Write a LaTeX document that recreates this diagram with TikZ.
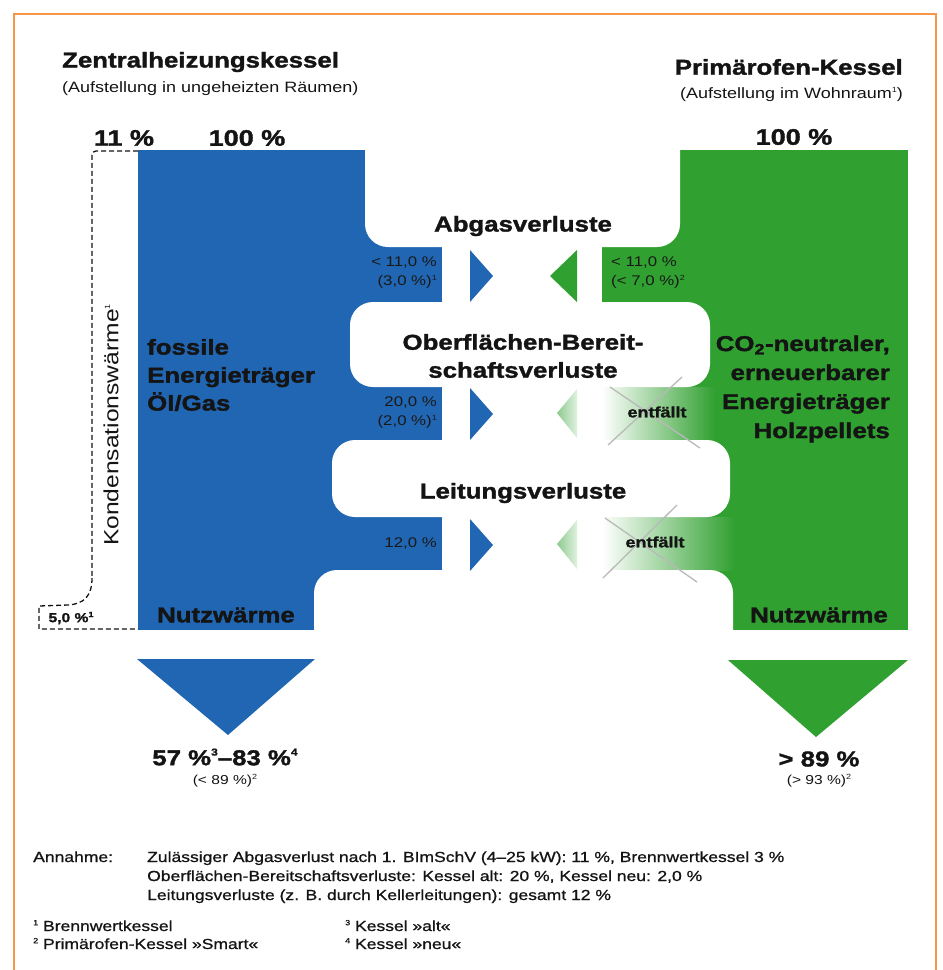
\documentclass[tikz,border=0pt]{standalone}
\usepackage{fontspec}
\setmainfont{Liberation Sans}[FakeStretch=1.2, BoldFeatures={FakeBold=1.6}]
\newfontfamily\footfont{Liberation Sans}[FakeStretch=1.2, FakeBold=0.9]
\newcommand\fnx[1]{\raisebox{0.75ex}{\fontsize{7.5}{8}\selectfont #1}}
\newcommand\fnb[1]{\raisebox{0.85ex}{\fontsize{10}{10}\selectfont #1}}
\definecolor{bblue}{RGB}{33,102,178}
\definecolor{ggreen}{RGB}{48,160,48}
\definecolor{orng}{RGB}{246,150,70}
\definecolor{txt}{RGB}{20,20,20}
\tikzset{
  lbl/.style={font=\fontsize{21.5}{26}\selectfont\bfseries, inner sep=0pt, text=txt},
  sub/.style={font=\fontsize{15}{18}\selectfont, inner sep=0pt, text=txt},
  small/.style={font=\fontsize{14}{19}\selectfont, inner sep=0pt, text=black!90},
  foot/.style={font=\footfont\fontsize{14.6}{19}\selectfont, inner sep=0pt, text=txt, anchor=base west},
  gap/.style={fill=white, rounded corners=23pt},
  cross/.style={draw=gray!55, line width=1.3pt},
  dsh/.style={draw=txt, line width=1.3pt, dash pattern=on 5pt off 3pt}
}
\begin{document}
\begin{tikzpicture}[x=1pt,y=-1pt]
\useasboundingbox (0,0) rectangle (943,970);
\draw[orng, line width=2pt] (14,970) -- (14,14) -- (936,14) -- (936,970);

% base columns
\fill[bblue] (138,150) rectangle (442,630);
\fill[ggreen] (602,150) rectangle (908,630);
% faded green branches
\shade[left color=white, right color=ggreen] (602,387) rectangle (715,440);
\shade[left color=white, right color=ggreen] (602,517) rectangle (735,570);
% white gaps
\fill[gap] (365,90) rectangle (680,247);
\fill[gap] (350,302) rectangle (710,387);
\fill[gap] (332,440) rectangle (730,517);
\fill[gap] (314,570) rectangle (733,700);

% loss arrows
\fill[bblue] (470,250) -- (493,276) -- (470,302) -- cycle;
\fill[bblue] (470,388) -- (493,414) -- (470,440) -- cycle;
\fill[bblue] (470,519) -- (493,545) -- (470,571) -- cycle;
\fill[ggreen] (577,250) -- (550,276) -- (577,302) -- cycle;
\shade[left color=ggreen!55, right color=ggreen!15] (577,389) -- (557,413) -- (577,438) -- cycle;
\shade[left color=ggreen!55, right color=ggreen!15] (577,520) -- (557,544) -- (577,569) -- cycle;

% crosses
\draw[cross] (610,387) -- (700,448);
\draw[cross] (608,445) -- (682,377);
\draw[cross] (605,518) -- (697,582);
\draw[cross] (603,578) -- (677,505);

% output triangles
\fill[bblue] (137,659) -- (315,659) -- (228,735) -- cycle;
\fill[ggreen] (728,660) -- (908,660) -- (816,737) -- cycle;

% condensation dashed line
\draw[dsh, rounded corners=4pt] (138,151) -- (92,151) -- (92,578);
\draw[dsh] (92,578) .. controls (92,596) and (84,604) .. (68,605) -- (39,606) -- (39,629) -- (138,629);
\node[font=\fontsize{13}{15}\selectfont\bfseries, inner sep=0pt, text=txt] (k5) at (71,618) {5,0 \%\fnx{1}};
\node[rotate=90, font=\fontsize{20.5}{22}\selectfont, inner sep=0pt, text=txt] (kond) at (111,425) {Kondensationswärme\fnx{1}};

% titles
\node[lbl, anchor=west] (t1) at (62,62) {Zentralheizungskessel};
\node[sub, anchor=west] (t1s) at (62,89) {(Aufstellung in ungeheizten Räumen)};
\node[lbl, anchor=east] (t2) at (903,67) {Primärofen-Kessel};
\node[sub, anchor=east] (t2s) at (903,94) {(Aufstellung im Wohnraum\fnx{1})};

\node[lbl, font=\fontsize{22.5}{26}\selectfont\bfseries] (p11) at (124,138) {11 \%};
\node[lbl, font=\fontsize{22.5}{26}\selectfont\bfseries] (p100a) at (247,138) {100 \%};
\node[lbl, font=\fontsize{22.5}{26}\selectfont\bfseries] (p100b) at (794,137) {100 \%};

% loss labels
\node[lbl] (abg) at (523,226) {Abgasverluste};
\node[lbl, align=center, font=\fontsize{21.5}{28}\selectfont\bfseries] (obf) at (523,356) {Oberflächen-Bereit-\\schaftsverluste};
\node[lbl] (ltg) at (523,493) {Leitungsverluste};

% column labels
\node[lbl, anchor=west, align=left, font=\fontsize{21.5}{28}\selectfont\bfseries] (fos) at (147,375) {fossile\\Energieträger\\Öl/Gas};
\node[lbl, anchor=east, align=right, font=\fontsize{21.5}{29}\selectfont\bfseries] (co2) at (890,389) {CO\textsubscript{2}-neutraler,\\erneuerbarer\\Energieträger\\Holzpellets};

% branch values
\node[small, anchor=east, align=right] (b1) at (437,273) {< 11,0 \%\\(3,0 \%)\fnx{1}};
\node[small, anchor=east, align=right] (b2) at (437,413) {20,0 \%\\(2,0 \%)\fnx{1}};
\node[small, anchor=east] (b3) at (437,543) {12,0 \%};
\node[small, align=left, anchor=west] (g1) at (611,273) {< 11,0 \%\\(< 7,0 \%)\fnx{2}};
\node[font=\fontsize{15}{17}\selectfont\bfseries, inner sep=0pt, text=txt] (g2) at (657,412) {entfällt};
\node[font=\fontsize{15}{17}\selectfont\bfseries, inner sep=0pt, text=txt] (g3) at (655,542) {entfällt};

% useful heat
\node[lbl] (nb) at (226,615) {Nutzwärme};
\node[lbl] (ng) at (819,615) {Nutzwärme};
\node[lbl] (rb) at (225,757) {57 \%\fnb{3}–83 \%\fnb{4}};
\node[sub, font=\fontsize{13}{15}\selectfont] (rbs) at (225,781) {(< 89 \%)\fnx{2}};
\node[lbl] (rg) at (819,759) {> 89 \%};
\node[sub, font=\fontsize{13}{15}\selectfont] (rgs) at (819,781) {(> 93 \%)\fnx{2}};

% footer
\node[foot] (f0) at (33,862) {Annahme:};
\node[foot] (f1) at (147,862) {Zulässiger Abgasverlust nach 1. BImSchV (4–25 kW): 11 \%, Brennwertkessel 3 \%};
\node[foot] (f2) at (147,881) {Oberflächen-Bereitschaftsverluste: Kessel alt: 20 \%, Kessel neu: 2,0 \%};
\node[foot] (f3) at (147,900) {Leitungsverluste (z. B. durch Kellerleitungen): gesamt 12 \%};
\node[foot] (n1) at (33,931) {\fnx{1} Brennwertkessel};
\node[foot] (n2) at (33,949) {\fnx{2} Primärofen-Kessel »Smart«};
\node[foot] (n3) at (345,931) {\fnx{3} Kessel »alt«};
\node[foot] (n4) at (345,949) {\fnx{4} Kessel »neu«};
\end{tikzpicture}
\end{document}
